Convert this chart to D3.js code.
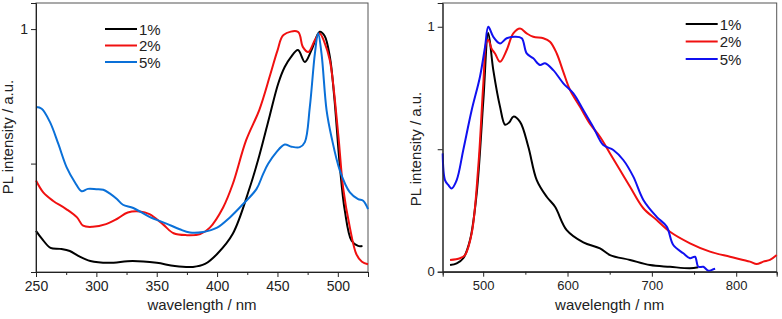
<!DOCTYPE html>
<html>
<head>
<meta charset="utf-8">
<script src="https://cdn.jsdelivr.net/npm/d3@7"></script>
<style>
  body { margin: 0; background: #fff; }
  text { font-family: Arial, "Liberation Sans", sans-serif; }
</style>
</head>
<body>
<div class="canvas"></div>
<script>
// legend labels
const seriesNames = ['1%', '2%', '5%'];

// left panel (excitation): [wavelength, intensity]
const exc1 = [[250,0.25],[255,0.22],[262,0.187],[270,0.183],[278,0.175],[285,0.157],[295,0.138],[310,0.131],[330,0.138],[350,0.131],[365,0.119],[380,0.116],[390,0.127],[400,0.164],[413,0.239],[427,0.41],[435,0.53],[443.7,0.68],[450.6,0.797],[456,0.859],[461,0.895],[467,0.922],[472.7,0.878],[478,0.92],[485,0.99],[489,0.975],[493.4,0.897],[497,0.75],[501.7,0.49],[505.8,0.325],[511.4,0.213],[516.8,0.194],[520.4,0.194]];
const exc2 = [[250,0.437],[256,0.393],[264,0.362],[275,0.331],[284,0.30],[289,0.269],[297,0.265],[308,0.275],[317,0.294],[326,0.318],[336,0.322],[344,0.312],[355,0.275],[364,0.241],[375,0.234],[386,0.238],[394,0.262],[405,0.337],[413,0.424],[424,0.586],[435,0.70],[444,0.83],[450,0.92],[455,0.978],[467,0.99],[471,0.934],[475.5,0.915],[481,0.959],[485,0.984],[489,0.95],[493.4,0.884],[500.3,0.611],[504.4,0.41],[510,0.262],[515.4,0.163],[520,0.135],[525,0.126]];
const exc5 = [[250,0.71],[254.7,0.704],[261.6,0.654],[268.5,0.573],[275.4,0.486],[282.3,0.43],[287.8,0.397],[293,0.406],[300,0.405],[305.7,0.403],[311,0.389],[317,0.368],[322,0.347],[330.6,0.335],[344,0.302],[358,0.277],[369,0.256],[377.5,0.244],[388.5,0.246],[400,0.262],[410.6,0.30],[421.6,0.35],[432.7,0.406],[438,0.46],[442.3,0.499],[449,0.542],[456,0.571],[461.6,0.563],[468.5,0.561],[472.7,0.58],[476.8,0.71],[481,0.909],[483.7,0.985],[486.5,0.909],[490.7,0.698],[494.8,0.598],[501.7,0.474],[510,0.393],[516.8,0.368],[521,0.362],[525,0.331]];

// right panel (emission)
const em1 = [[460.7,0.027],[468.6,0.034],[476.4,0.055],[484.4,0.129],[492.3,0.32],[500.2,0.70],[506,0.975],[512,0.823],[520,0.673],[526,0.60],[531,0.61],[535.7,0.633],[543.7,0.612],[553.5,0.51],[563.5,0.374],[575.3,0.306],[585.2,0.265],[599,0.17],[618.7,0.12],[638.5,0.095],[650.4,0.068],[674.1,0.048],[697.8,0.027],[721.5,0.02],[745.2,0.014],[755,0.018]];
const em2 = [[460.7,0.048],[472.5,0.055],[478.4,0.068],[486.4,0.157],[494.2,0.43],[500.2,0.77],[504,0.94],[506.1,0.946],[510,0.91],[514,0.891],[520,0.857],[527.9,0.905],[535.7,0.973],[543.7,0.993],[551.6,0.973],[559.4,0.959],[571.3,0.953],[579.2,0.939],[587.2,0.891],[595,0.816],[603,0.742],[614.8,0.673],[626.7,0.603],[638.5,0.551],[650.4,0.483],[662.2,0.415],[674.1,0.347],[689.9,0.259],[705.7,0.211],[721.5,0.163],[745.2,0.116],[768.9,0.082],[792.6,0.061],[816.3,0.041],[824.2,0.031],[832.1,0.041],[840,0.048],[848,0.068]];
const em5 = [[452,0.483],[454.7,0.374],[458.6,0.354],[462.6,0.34],[468.6,0.374],[476.4,0.497],[486.4,0.66],[496.2,0.796],[502.2,0.918],[506.1,1.0],[512,0.959],[520,0.932],[527.9,0.953],[537.7,0.959],[545.7,0.953],[551.6,0.891],[559.4,0.871],[567.4,0.844],[573.3,0.851],[583.1,0.823],[595,0.769],[606.9,0.728],[618.7,0.66],[630.6,0.59],[642.4,0.517],[654.3,0.497],[666.1,0.456],[678,0.388],[689.9,0.293],[705.7,0.224],[717.6,0.184],[725.4,0.109],[737.3,0.075],[745.2,0.055],[751.1,0.061],[755.1,0.02],[761,0.02],[767,0.004],[772.9,0.01],[775,0.012]];

// ticks
const leftXTicks = [250, 300, 350, 400, 450, 500];
const leftXMinor = [275, 325, 375, 425, 475, 525];
const leftYTicks = [0.5, 1];
const rightXTicks = [500, 600, 700, 800];
const rightXMinor = [550, 650, 750];
const rightYTicks = [0, 0.5, 1];

const svg = d3.select('.canvas')
  .append('svg')
  .attr('width', 782)
  .attr('height', 319)

const drawPanel = (cfg) => {
  const w = cfg.x1 - cfg.x0;
  const h = cfg.y1 - cfg.y0;

  const g = svg.append('g')
    .attr('transform', `translate(${cfg.x0}, ${cfg.y0})`)

  const x = d3.scaleLinear().domain(cfg.xDomain).range([0, w]);
  const y = d3.scaleLinear().domain(cfg.yDomain).range([h, 0]);

  // frame
  g.append('rect')
    .attr('width', w)
    .attr('height', h)
    .attr('fill', 'none')
    .attr('stroke', '#555')
    .attr('stroke-width', 1)

  // smooth the hand-read points a bit
  const line = d3.line()
    .curve(d3.curveCatmullRom.alpha(0.5))
    .x(d => x(d[0]))
    .y(d => y(d[1]));

  cfg.series.forEach((s, i) => {
    g.append('path')
      .datum(s)
      .attr('d', line)
      .attr('fill', 'none')
      .attr('stroke', cfg.colors[i])
      .attr('stroke-width', 2)
      .attr('stroke-linejoin', 'round')
  });

  // axes
  const xAxis = d3.axisBottom(x)
    .tickValues(cfg.xTicks)
    .tickSize(5)
    .tickPadding(4)
  const xMinor = d3.axisBottom(x)
    .tickValues(cfg.xMinor)
    .tickSize(3)
    .tickFormat('')
  const yAxis = d3.axisLeft(y)
    .tickValues(cfg.yTicks)
    .tickSize(5)
    .tickPadding(3)
    .tickFormat(d => (d === 0.5 ? '' : d3.format('d')(d)))

  const xg = g.append('g').attr('transform', `translate(0, ${h})`).call(xAxis);
  g.append('g').attr('transform', `translate(0, ${h})`).call(xMinor);
  const yg = g.append('g').call(yAxis);

  [xg, yg].forEach(a => {
    a.selectAll('text')
      .attr('fill', '#222')
      .style('font-size', `${cfg.tickFont}px`)
  });
  g.selectAll('.domain').attr('stroke', '#222');
  g.selectAll('.tick line').attr('stroke', '#222');

  // axis titles
  g.append('text')
    .attr('x', w / 2)
    .attr('y', cfg.xTitleY)
    .attr('text-anchor', 'middle')
    .style('font-size', '15px')
    .attr('fill', '#222')
    .text('wavelength / nm')

  g.append('text')
    .attr('transform', `translate(${cfg.yTitleX}, ${cfg.yTitleMid}) rotate(-90)`)
    .attr('text-anchor', 'middle')
    .style('font-size', '15px')
    .attr('fill', '#222')
    .text('PL intensity / a.u.')

  // legend
  const leg = g.append('g')
    .attr('transform', `translate(${cfg.legX}, ${cfg.legY})`)
  seriesNames.forEach((name, i) => {
    leg.append('line')
      .attr('x1', 0).attr('x2', 32)
      .attr('y1', i * cfg.legStep).attr('y2', i * cfg.legStep)
      .attr('stroke', cfg.colors[i])
      .attr('stroke-width', 2)
    leg.append('text')
      .attr('x', 34)
      .attr('y', i * cfg.legStep + 5.5)
      .style('font-size', '15px')
      .attr('fill', '#222')
      .text(name)
  });
}

drawPanel({
  x0: 36, x1: 368, y0: 3, y1: 272,
  xDomain: [250, 525], yDomain: [0.097, 1.097],
  xTicks: leftXTicks, xMinor: leftXMinor, yTicks: leftYTicks,
  series: [exc1, exc2, exc5],
  colors: ['#000000', '#f01010', '#0a70d8'],
  tickFont: 14,
  xTitleY: 307, yTitleX: -23, yTitleMid: 134,
  legX: 69, legY: 26, legStep: 16.5
});

drawPanel({
  x0: 442.7, x1: 776.7, y0: 3, y1: 271.7,
  xDomain: [452, 848], yDomain: [0, 1.097],
  xTicks: rightXTicks, xMinor: rightXMinor, yTicks: rightYTicks,
  series: [em1, em2, em5],
  colors: ['#000000', '#f01010', '#1010f0'],
  tickFont: 13,
  xTitleY: 307, yTitleX: -22, yTitleMid: 146,
  legX: 243, legY: 21, legStep: 17.5
});
</script>
</body>
</html>
